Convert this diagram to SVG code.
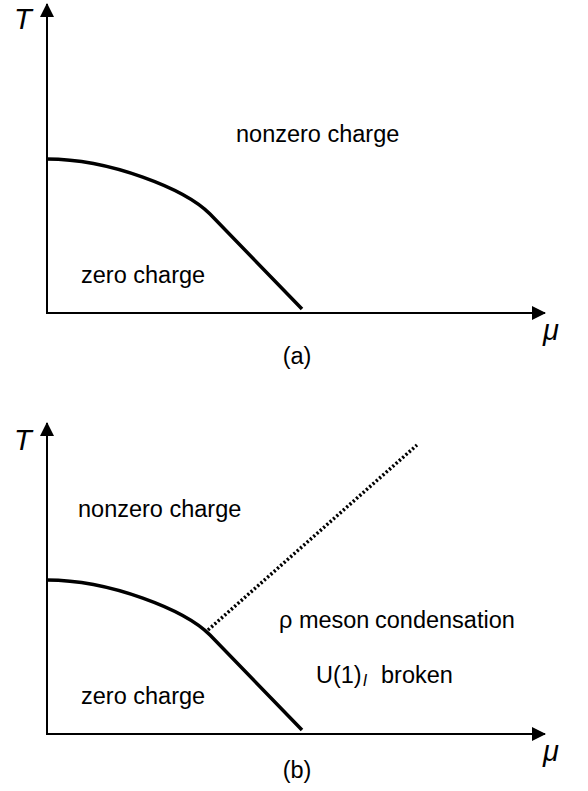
<svg xmlns="http://www.w3.org/2000/svg" width="588" height="791" viewBox="0 0 588 791">
<style>
.axis{stroke:#000;stroke-width:2;fill:none}
.curve{stroke:#000;stroke-width:3.5;fill:none;stroke-linejoin:round}
.dot{stroke:#000;stroke-width:3.5;fill:none;stroke-dasharray:2.2 2.2}
.lbl{font-family:"Liberation Sans",Arial,sans-serif;font-size:23.5px;fill:#000}
.var{font-family:"Liberation Sans",Arial,sans-serif;font-size:29px;font-style:italic;fill:#000}
</style>
<defs>
<marker id="ah" viewBox="0 0 14 14" refX="13" refY="7" markerWidth="14" markerHeight="14" markerUnits="userSpaceOnUse" orient="auto">
<path d="M0,0 L14,7 L0,14 Z" fill="#000"/>
</marker>
</defs>
<rect width="588" height="791" fill="#fff"/>
<g id="panel-a">
<g id="axes-a">
<line class="axis" x1="47" y1="313" x2="47" y2="4" marker-end="url(#ah)"/>
<line class="axis" x1="46" y1="313" x2="545" y2="313" marker-end="url(#ah)"/>
<text class="var" x="14" y="29">T</text>
<text class="var" x="543" y="340">μ</text>
</g>
<g id="boundary-a">
<path class="curve" d="M47,159 C110,159 185,189 210,214 L302,309"/>
</g>
<g id="region-nonzero-a"><text class="lbl" x="236" y="142">nonzero charge</text></g>
<g id="region-zero-a"><text class="lbl" x="81" y="283">zero charge</text></g>
<text class="lbl" x="297" y="364" text-anchor="middle">(a)</text>
</g>
<g id="panel-b">
<g id="axes-b">
<line class="axis" x1="47" y1="734" x2="47" y2="423" marker-end="url(#ah)"/>
<line class="axis" x1="46" y1="734" x2="545" y2="734" marker-end="url(#ah)"/>
<text class="var" x="14" y="450">T</text>
<text class="var" x="543" y="761">μ</text>
</g>
<g id="boundary-b">
<path class="curve" d="M47,580 C110,580 185,610 210,635 L302,730"/>
</g>
<g id="connectors">
<line class="dot" x1="208" y1="630" x2="417" y2="445"/>
</g>
<g id="region-nonzero-b"><text class="lbl" x="78" y="517">nonzero charge</text></g>
<g id="region-rho"><text class="lbl" x="279" y="628">ρ meson<tspan x="375">condensation</tspan></text></g>
<g id="region-u1"><text class="lbl" x="316" y="683" font-size="24.5">U(1)<tspan font-size="16" font-style="italic" dx="1" dy="3">I</tspan><tspan x="381" y="683">broken</tspan></text></g>
<g id="region-zero-b"><text class="lbl" x="81" y="704">zero charge</text></g>
<text class="lbl" x="297" y="778" text-anchor="middle">(b)</text>
</g>
</svg>
